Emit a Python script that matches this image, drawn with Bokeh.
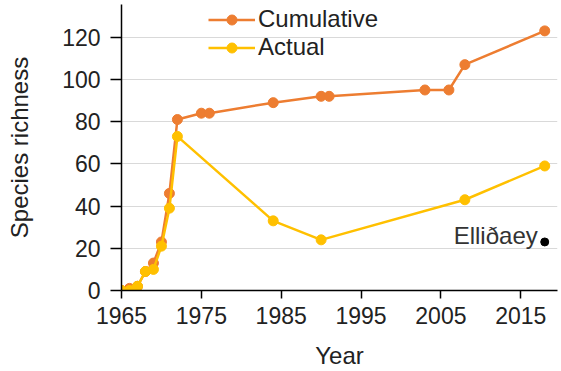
from bokeh.plotting import figure
from bokeh.models import Legend, LegendItem, Range1d, FixedTicker
from bokeh.embed import file_html
from bokeh.resources import INLINE

# Data
cum_years = [1965, 1966, 1967, 1968, 1969, 1970, 1971, 1972, 1975, 1976, 1984, 1990, 1991, 2003, 2006, 2008, 2018]
cum_values = [0, 1, 2, 9, 13, 23, 46, 81, 84, 84, 89, 92, 92, 95, 95, 107, 123]
act_years = [1965, 1966, 1967, 1968, 1969, 1970, 1971, 1972, 1984, 1990, 2008, 2018]
act_values = [0, 0, 2, 9, 10, 21, 39, 73, 33, 24, 43, 59]
ell_year = [2018]
ell_value = [23]
ell_label = ["Elliðaey"]
x_ticks = [1965, 1975, 1985, 1995, 2005, 2015]
y_ticks = [0, 20, 40, 60, 80, 100, 120]

ORANGE = "#ED7D31"
YELLOW = "#FFC000"
FONT = "Liberation Sans"

p = figure(width=561, height=371, output_backend="svg", toolbar_location=None,
           x_range=Range1d(1965, 2019.6), y_range=Range1d(0, 135.5),
           min_border_left=121, min_border_right=4, min_border_top=4, min_border_bottom=79)
p.outline_line_color = None
p.background_fill_color = "white"
p.border_fill_color = "white"

# grid
p.xgrid.grid_line_color = None
p.ygrid.grid_line_color = "#d9d9d9"
p.ygrid.grid_line_width = 1.2
p.ygrid.ticker = FixedTicker(ticks=y_ticks)

# axes
for ax in (p.xaxis[0], p.yaxis[0]):
    ax.axis_line_color = "black"
    ax.axis_line_width = 1.5
    ax.major_tick_line_color = "black"
    ax.major_tick_line_width = 1.5
    ax.major_tick_in = 0
    ax.minor_tick_line_color = None
    ax.major_label_text_font = FONT
    ax.major_label_text_font_size = "23px"
    ax.major_label_text_color = "#222222"
    ax.axis_label_text_font = FONT
    ax.axis_label_text_font_size = "24px"
    ax.axis_label_text_font_style = "normal"
    ax.axis_label_text_color = "#222222"

p.xaxis.ticker = FixedTicker(ticks=x_ticks)
p.yaxis.ticker = FixedTicker(ticks=y_ticks)
p.xaxis.major_tick_out = 8
p.yaxis.major_tick_out = 11
p.xaxis.major_label_standoff = 8
p.yaxis.major_label_standoff = 10
p.xaxis.axis_label = "Year"
p.yaxis.axis_label = "Species richness"
p.xaxis.axis_label_standoff = 15
p.yaxis.axis_label_standoff = 26

# series
cl = p.line(cum_years, cum_values, line_color=ORANGE, line_width=2.5)
cs = p.scatter(cum_years, cum_values, size=10, fill_color=ORANGE, line_color=ORANGE)
al = p.line(act_years, act_values, line_color=YELLOW, line_width=2.5)
as_ = p.scatter(act_years, act_values, size=10, fill_color=YELLOW, line_color=YELLOW)

p.scatter(ell_year, ell_value, size=8, fill_color="black", line_color="black")
p.text(ell_year, ell_value, text=ell_label, x_offset=-7, y_offset=-6,
       text_align="right", text_baseline="middle",
       text_font_size="24px", text_color="#333333", text_font={"value": FONT})

legend = Legend(items=[LegendItem(label="Cumulative", renderers=[cl, cs]),
                       LegendItem(label="Actual", renderers=[al, as_])],
                location=(87, 229))
legend.background_fill_alpha = 0
legend.border_line_color = None
legend.padding = 0
legend.margin = 0
legend.spacing = 0
legend.glyph_width = 47
legend.glyph_height = 25
legend.label_height = 25
legend.label_standoff = 3
legend.label_text_font = FONT
legend.label_text_font_size = "24px"
legend.label_text_color = "#222222"
p.add_layout(legend, "center")

open("out.html", "w").write(file_html(p, INLINE))
